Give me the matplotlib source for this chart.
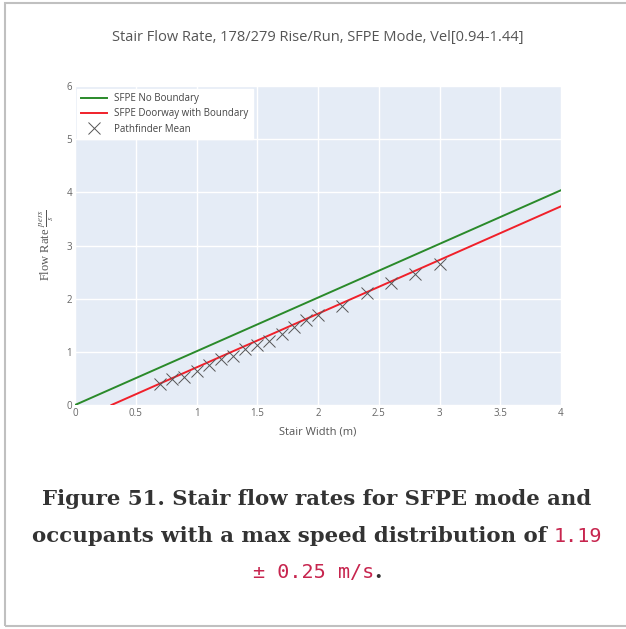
import matplotlib
matplotlib.use('Agg')
import matplotlib.pyplot as plt
from matplotlib.patches import Rectangle

# SFPE lines (end points)
width_no_boundary = [0.0, 4.0]
flow_no_boundary = [0.0, 4.04]
width_boundary = [0.3, 4.0]
flow_boundary = [0.0, 3.737]

# Pathfinder mean results
pf_width = [0.7, 0.8, 0.9, 1.0, 1.1, 1.2, 1.3, 1.4, 1.5, 1.6, 1.7, 1.8, 1.9, 2.0,
            2.2, 2.4, 2.6, 2.8, 3.0]
pf_flow = [0.39, 0.48, 0.52, 0.64, 0.76, 0.86, 0.93, 1.05, 1.13, 1.20, 1.34, 1.46,
           1.60, 1.69, 1.86, 2.11, 2.29, 2.46, 2.66]

xticks = [0, 0.5, 1, 1.5, 2, 2.5, 3, 3.5, 4]
xtick_labels = ['0', '0.5', '1', '1.5', '2', '2.5', '3', '3.5', '4']
yticks = [0, 1, 2, 3, 4, 5, 6]

W, H = 626, 629
fig = plt.figure(figsize=(W / 100, H / 100), dpi=100)
fig.patch.set_facecolor('white')

ax = fig.add_axes([75 / W, 1 - 405 / H, (561 - 75) / W, (405 - 86) / H])
ax.set_facecolor('#e5ecf6')
ax.plot(width_no_boundary, flow_no_boundary, color='#2a8a2a', lw=1.4, label='SFPE No Boundary')
ax.plot(width_boundary, flow_boundary, color='#f0202a', lw=1.4, label='SFPE Doorway with Boundary')
ax.plot(pf_width, pf_flow, ls='none', marker='x', ms=9, mew=0.7, color='#555555',
        label='Pathfinder Mean')
ax.set_xlim(0, 4)
ax.set_ylim(0, 6)
ax.set_xticks(xticks)
ax.set_xticklabels(xtick_labels)
ax.set_yticks(yticks)
ax.grid(color='white', lw=1)
ax.set_axisbelow(True)
for s in ax.spines.values():
    s.set_visible(False)
ax.tick_params(length=0, labelsize=7, labelcolor='#666666', pad=2)
for lab in ax.get_xticklabels() + ax.get_yticklabels():
    lab.set_fontfamily('Open Sans')

leg = ax.legend(loc='upper left', bbox_to_anchor=(0.005, 0.99), frameon=True, fancybox=False,
                edgecolor='white', framealpha=1, borderaxespad=0, handlelength=2.6,
                labelspacing=0.45, borderpad=0.4, prop={'family': 'Open Sans', 'size': 7})
for t in leg.get_texts():
    t.set_color('#444444')

fig.text(318 / W, 1 - 38 / H, 'Stair Flow Rate, 178/279 Rise/Run, SFPE Mode, Vel[0.94-1.44]',
         ha='center', va='center', fontsize=10.5, color='#555555', family='Open Sans')
fig.text(318 / W, 1 - 432 / H, 'Stair Width (m)', ha='center', va='center', fontsize=8,
         color='#555555', family='Open Sans')
plt.rcParams['mathtext.fontset'] = 'stix'
fig.text(47 / W, 1 - 245 / H, r'Flow Rate $\frac{pers}{s}$', ha='center', va='center',
         rotation=90, fontsize=9, color='#555555', family='Liberation Serif')

fig.add_artist(Rectangle((5 / W, 3 / H), 1, 623 / H, transform=fig.transFigure, fill=False,
                         edgecolor='#c0c0c0', lw=1.5))

bold = dict(family='DejaVu Serif', weight='bold', fontsize=15.3, color='#333333')
code = dict(family='DejaVu Sans Mono', fontsize=14.5, color='#c7254e')


def caption_line(parts, y):
    texts = [fig.text(0, y, s, va='baseline', ha='left', **st) for s, st in parts]
    r = fig.canvas.get_renderer()
    widths = [t.get_window_extent(r).width for t in texts]
    x = 317 - sum(widths) / 2
    for t, w in zip(texts, widths):
        t.set_x(x / W)
        x += w


caption_line([('Figure 51. Stair flow rates for SFPE mode and', bold)], 1 - 505 / H)
caption_line([('occupants with a max speed distribution of\u00a0', bold), ('1.19', code)], 1 - 542 / H)
caption_line([('\u00b1 0.25 m/s', code), ('.', bold)], 1 - 578 / H)

fig.savefig('out.png', dpi=100)
